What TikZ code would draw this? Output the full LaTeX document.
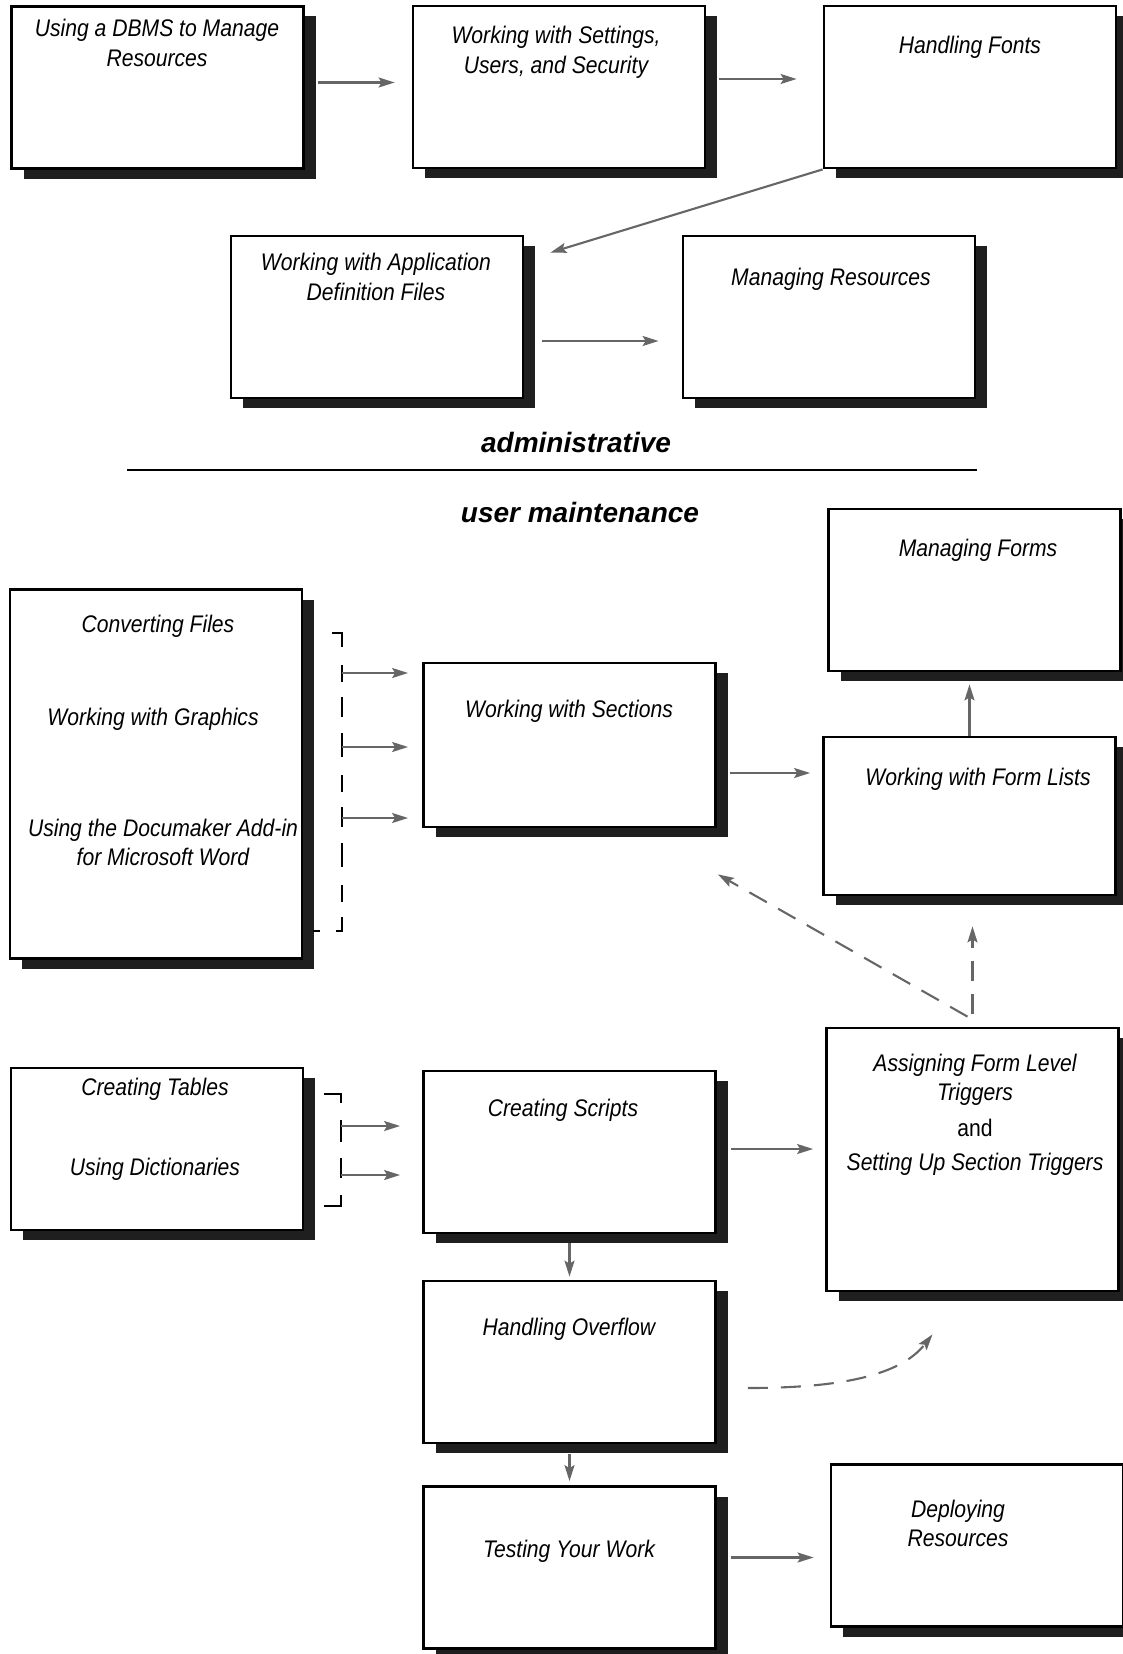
\documentclass[tikz,border=0pt]{standalone}
\usepackage{fontspec}
\setmainfont{Liberation Sans}[FakeStretch=0.88]
\newfontfamily\headfont{Liberation Sans}
\usetikzlibrary{arrows.meta,shadows,calc}

\tikzset{
  box/.style={draw, line width=2.8pt, fill=white, inner sep=0pt,
    minimum width=292pt, minimum height=162pt,
    general shadow={fill=black!88, shadow xshift=12pt, shadow yshift=-10pt}},
  txt/.style={font=\fontsize{24}{29.5}\selectfont\itshape, align=center,
    inner sep=0pt, anchor=north},
  head/.style={font=\headfont\fontsize{28}{32}\selectfont\bfseries\itshape,
    anchor=base},
  arr/.style={draw=black!60, line width=2.1pt,
    -{Stealth[length=16pt,width=10pt,inset=3pt]}},
  darr/.style={arr, dash pattern=on 20pt off 13pt},
  brk/.style={draw, line width=2.4pt}
}

\begin{document}
\begin{tikzpicture}[x=1pt, y=-1pt, line cap=butt]

    \useasboundingbox (0,0) rectangle (1123,1654);

    % administrative
    \node[box] (dbms)   at (157.5,87.5) {};
    \node[box] (sets)   at (559,87) {};
    \node[box] (fonts)  at (970,87) {};
    \node[box] (appdef) at (377,317) {};
    \node[box] (mngres) at (829,317) {};

    \node[txt] (dbmsT)   at (157,19.4) {Using a DBMS to Manage\\Resources};
    \node[txt] (setsT)   at (556,26.4) {Working with Settings,\\Users, and Security};
    \node[txt] (fontsT)  at (970,36.4) {Handling Fonts};
    \node[txt] (appdefT) at (376,253.4) {Working with Application\\Definition Files};
    \node[txt] (mngresT) at (831,268.4) {Managing Resources};

    \draw[arr, shorten <=13pt, shorten >=17pt] ([yshift=5pt]dbms.east)
        -- ([yshift=5pt]dbms.east -| sets.west);
    \draw[arr, shorten <=13pt, shorten >=26pt] ([yshift=8pt]sets.east)
        -- ([yshift=8pt]sets.east -| fonts.west);
    \draw[arr] (fonts.south west) -- ($(appdef.north east)+(26,18)$);
    \draw[arr, shorten <=18pt, shorten >=23pt] ([yshift=-24pt]appdef.east)
        -- ([yshift=-24pt]appdef.east -| mngres.west);

    \node[head] (adm) at (576,452) {administrative};
    \draw[line width=2.2pt] (127,470) -- (977,470);
    \node[head] (usr) at (580,522) {user maintenance};

    % user maintenance
    \node[box] (mngforms) at (974.5,590) {};
    \node[box, minimum height=369pt] (conv) at (156,774) {};
    \node[box, minimum height=164pt] (secs) at (569.5,745) {};
    \node[box, minimum height=158pt] (flists) at (969.5,816) {};
    \node[box, minimum height=263pt] (trig) at (972.5,1159.5) {};
    \node[box] (tabs)    at (157,1149) {};
    \node[box] (scripts) at (569.5,1152) {};
    \node[box] (ovfl)    at (569.5,1362) {};
    \node[box] (test)    at (569.5,1567.5) {};
    \node[box] (deploy)  at (977,1545.5) {};

    \node[txt] (mngformsT) at (978,539.4) {Managing Forms};
    \node[txt] (convT)  at (158,615.4) {Converting Files};
    \node[txt] (graphT) at (153,708.4) {Working with Graphics};
    \node[txt] (addinT) at (163,818.4) {Using the Documaker Add-in\\for Microsoft Word};
    \node[txt] (secsT)  at (569,700.4) {Working with Sections};
    \node[txt] (flistsT) at (978,768.4) {Working with Form Lists};
    \node[txt] (trigT)  at (975,1053.4) {Assigning Form Level\\Triggers\\[6pt]
        {\upshape and}\\[5pt]Setting Up Section Triggers};
    \node[txt] (tabsT)  at (155,1077.4) {Creating Tables};
    \node[txt] (dictT)  at (155,1157.4) {Using Dictionaries};
    \node[txt] (scriptsT) at (563,1098.4) {Creating Scripts};
    \node[txt] (ovflT)  at (569,1317.4) {Handling Overflow};
    \node[txt] (testT)  at (569,1539.4) {Testing Your Work};
    \node[txt] (deployT) at (958,1499.4) {Deploying\\Resources};

    % brackets
    \draw[brk, dash pattern=on 24pt off 18pt on 17pt off 15pt on 20pt off 16pt]
        (332,633) -- (342,633) -- (342,931) -- (313,931);
    \draw[brk, dash pattern=on 26pt off 17pt on 22pt off 16pt on 20pt off 17pt
        on 30pt off 10pt]
        (324,1094) -- (341,1094) -- (341,1206) -- (324,1206);
    \foreach \k/\y in {1/673, 2/747, 3/818}
        \coordinate (k\k) at (342,\y);
    \foreach \k/\y in {1/1126, 2/1175}
        \coordinate (m\k) at (341,\y);
    \foreach \k in {1,2,3}
        \draw[arr, shorten >=14pt] (k\k) -- (k\k -| secs.west);
    \foreach \k in {1,2}
        \draw[arr, shorten >=22pt] (m\k) -- (m\k -| scripts.west);

    \draw[arr, shorten <=13pt, shorten >=12pt] ([yshift=-28pt]secs.east)
        -- ([yshift=-28pt]secs.east -| flists.west);
    \draw[arr, shorten >=12pt] (flists.north) -- (flists.north |- mngforms.south);
    \draw[darr] ($(trig.north)+(-5,-10)$) -- ($(secs.south east)+(1,46)$);
    \draw[darr, shorten <=13pt, shorten >=30pt] (trig.north)
        -- (trig.north |- flists.south);

    \draw[arr, shorten <=14pt, shorten >=12pt] ([yshift=3pt]scripts.east)
        -- ([yshift=3pt]scripts.east -| trig.west);
    \draw[arr, shorten <=9pt, shorten >=3pt] (scripts.south) -- (ovfl.north);
    \draw[arr, shorten <=10pt, shorten >=4pt] (ovfl.south) -- (test.north);
    \draw[arr, shorten <=14pt, shorten >=16pt] ([yshift=10pt]test.east)
        -- ([yshift=10pt]test.east -| deploy.west);

    \coordinate (c1) at ($(ovfl.east)+(31,26)$);
    \coordinate (c2) at ($(trig.south)+(-40,42)$);
    \draw[darr] (c1) .. controls ($(c1)+(93,0)$) and ($(c2)+(-32,41)$) .. (c2);

\end{tikzpicture}
\end{document}
